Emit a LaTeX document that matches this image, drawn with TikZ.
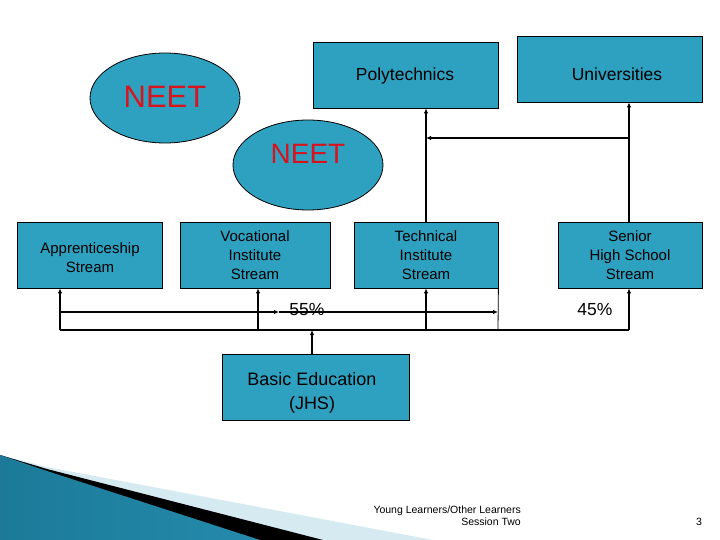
\documentclass[tikz,border=0pt]{standalone}
\usepackage{fontspec}
\setmainfont{Liberation Sans}
\usetikzlibrary{shapes.geometric,arrows.meta}
\definecolor{boxteal}{RGB}{47,161,192}
\definecolor{neetred}{RGB}{215,20,30}
\definecolor{swdark}{RGB}{28,122,152}
\definecolor{swmid}{RGB}{96,190,226}
\definecolor{swright}{RGB}{36,138,172}
\definecolor{swlight}{RGB}{214,234,242}
\begin{document}
\begin{tikzpicture}[x=1pt,y=-1pt,
  tbox/.style={draw=black,line width=0.8pt,fill=boxteal,inner sep=0pt,align=center,
    minimum height=66pt,font=\fontsize{15}{19}\selectfont},
  lbl/.style={inner sep=0pt,align=center},
  neet/.style={ellipse,draw=black,line width=0.8pt,fill=boxteal,inner sep=0pt,
    minimum width=150pt,minimum height=90pt,text=neetred},
  arr/.style={line width=1.6pt,-{Latex[length=5pt,width=4.5pt]}},
  plain/.style={line width=1.3pt},
  pct/.style={font=\fontsize{17.5}{20}\selectfont,inner sep=0pt},
  foot/.style={font=\fontsize{10.5}{11}\selectfont,inner sep=0pt}]
\useasboundingbox (0,0) rectangle (720,540);

% decorative swoosh
\fill[swlight] (0,455) -- (47,467) -- (433,540) -- (0,540) -- cycle;
\fill[black] (0,455) -- (47,469) -- (323,540) -- (0,540) -- cycle;
\shade[left color=swdark,middle color=swmid,right color=swright]
  (0,455) -- (47,471) -- (260,540) -- (0,540) -- cycle;

% ellipses
\node[neet,font=\fontsize{31}{34}\selectfont] (neet1) at (165,98) {\raisebox{3pt}{NEET}};
\node[neet,font=\fontsize{28}{30}\selectfont] (neet2) at (308,165) {\raisebox{22pt}{NEET}};

% top boxes
\node[tbox,minimum width=185pt] (poly) at (405.5,75) {};
\node[lbl,font=\fontsize{17.5}{20}\selectfont] (polylbl) at (405,76) {Polytechnics};
\node[tbox,minimum width=185pt] (univ) at (609.5,69) {};
\node[lbl,font=\fontsize{17.5}{20}\selectfont] (univlbl) at (617,74) {Universities};

% stream boxes
\node[tbox,minimum width=145pt] (appr) at (89.5,255) {};
\node[lbl,font=\fontsize{15}{19}\selectfont] (apprlbl) at (90,258) {Apprenticeship\\Stream};
\node[tbox,minimum width=150pt] (voc) at (255,255) {Vocational\\Institute\\Stream};
\node[tbox,minimum width=144pt] (tech) at (426,255) {Technical\\Institute\\Stream};
\node[tbox,minimum width=144pt] (senior) at (630,255) {Senior\\High School\\Stream};

% basic education
\node[tbox,minimum width=187pt] (basic) at (315.5,387) {};
\node[lbl,font=\fontsize{18}{24}\selectfont] (basiclbl) at (312,393) {Basic Education\\(JHS)};

% upper connectors
\coordinate (hR) at (629,138);
\coordinate (hL) at (426,138);
\draw[arr] (senior.north -| hR) -- (univ.south -| hR);
\draw[arr] (tech.north -| hL) -- (poly.south -| hL);
\draw[arr] (hR) -- (hL);

% lower connectors
\coordinate (bA) at (60,330);
\coordinate (bV) at (258,330);
\coordinate (bT) at (426,330);
\coordinate (bS) at (629,330);
\coordinate (bM) at (312,330);
\coordinate (bR) at (498,330);
\draw[plain] (bA) -- (bS);
\draw[plain,line width=0.8pt] (tech.south east) -- (bR);
\draw[arr] (bA) -- (bA |- appr.south);
\draw[arr] (bV) -- (bV |- voc.south);
\draw[arr] (bT) -- (bT |- tech.south);
\draw[arr] (bS) -- (bS |- senior.south);
\draw[arr] (basic.north -| bM) -- (bM);

% percentages
\node[pct] (p55) at (307,310) {55\%};
\node[pct] (p45) at (595,310) {45\%};
\coordinate (mA) at (60,312);
\coordinate (mM) at (279,312);
\coordinate (mR) at (498,312);
\draw[arr] (mA) -- (mM);
\draw[arr] (mM) -- (mR);

% footer
\node[foot,anchor=east] (f1) at (521,511) {Young Learners/Other Learners};
\node[foot,anchor=east] (f2) at (521,522) {Session Two};
\node[foot] (pg) at (699,522) {3};
\end{tikzpicture}
\end{document}
